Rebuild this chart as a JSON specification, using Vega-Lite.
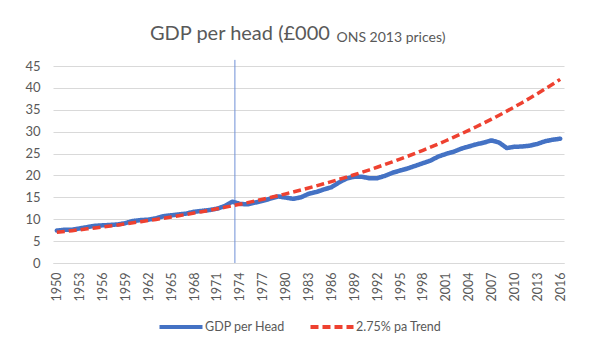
{
  "$schema": "https://vega.github.io/schema/vega-lite/v6.json",
  "width": 511,
  "height": 197,
  "autosize": {"type": "none"},
  "padding": {"left": 53, "top": 66, "right": 26, "bottom": 91},
  "background": "white",
  "title": {
    "text": "GDP per head (£000",
    "anchor": "start",
    "frame": "group",
    "dx": 97,
    "offset": -14,
    "font": "Lato",
    "fontSize": 20,
    "fontWeight": "normal",
    "color": "#595959"
  },
  "config": {
    "view": {"stroke": null},
    "font": "Lato",
    "axis": {"labelFont": "Lato", "labelColor": "#595959", "titleColor": "#595959"},
    "legend": {"labelFont": "Lato", "labelColor": "#595959"}
  },
  "data": {
    "values": [
      {"year": 1950, "gdp": 7.4, "trend": 7.0},
      {"year": 1951, "gdp": 7.6, "trend": 7.193},
      {"year": 1952, "gdp": 7.6, "trend": 7.39},
      {"year": 1953, "gdp": 7.9, "trend": 7.593},
      {"year": 1954, "gdp": 8.2, "trend": 7.802},
      {"year": 1955, "gdp": 8.5, "trend": 8.017},
      {"year": 1956, "gdp": 8.6, "trend": 8.237},
      {"year": 1957, "gdp": 8.7, "trend": 8.464},
      {"year": 1958, "gdp": 8.8, "trend": 8.697},
      {"year": 1959, "gdp": 9.1, "trend": 8.936},
      {"year": 1960, "gdp": 9.6, "trend": 9.182},
      {"year": 1961, "gdp": 9.8, "trend": 9.434},
      {"year": 1962, "gdp": 9.9, "trend": 9.694},
      {"year": 1963, "gdp": 10.2, "trend": 9.96},
      {"year": 1964, "gdp": 10.7, "trend": 10.234},
      {"year": 1965, "gdp": 10.9, "trend": 10.516},
      {"year": 1966, "gdp": 11.1, "trend": 10.805},
      {"year": 1967, "gdp": 11.3, "trend": 11.102},
      {"year": 1968, "gdp": 11.7, "trend": 11.407},
      {"year": 1969, "gdp": 11.9, "trend": 11.721},
      {"year": 1970, "gdp": 12.1, "trend": 12.043},
      {"year": 1971, "gdp": 12.4, "trend": 12.375},
      {"year": 1972, "gdp": 13.0, "trend": 12.715},
      {"year": 1973, "gdp": 14.0, "trend": 13.065},
      {"year": 1974, "gdp": 13.5, "trend": 13.424},
      {"year": 1975, "gdp": 13.4, "trend": 13.793},
      {"year": 1976, "gdp": 13.8, "trend": 14.172},
      {"year": 1977, "gdp": 14.2, "trend": 14.562},
      {"year": 1978, "gdp": 14.7, "trend": 14.963},
      {"year": 1979, "gdp": 15.2, "trend": 15.374},
      {"year": 1980, "gdp": 14.95, "trend": 15.797},
      {"year": 1981, "gdp": 14.65, "trend": 16.231},
      {"year": 1982, "gdp": 15.0, "trend": 16.678},
      {"year": 1983, "gdp": 15.8, "trend": 17.136},
      {"year": 1984, "gdp": 16.2, "trend": 17.607},
      {"year": 1985, "gdp": 16.8, "trend": 18.092},
      {"year": 1986, "gdp": 17.3, "trend": 18.589},
      {"year": 1987, "gdp": 18.4, "trend": 19.1},
      {"year": 1988, "gdp": 19.3, "trend": 19.626},
      {"year": 1989, "gdp": 19.7, "trend": 20.165},
      {"year": 1990, "gdp": 19.7, "trend": 20.72},
      {"year": 1991, "gdp": 19.35, "trend": 21.29},
      {"year": 1992, "gdp": 19.35, "trend": 21.875},
      {"year": 1993, "gdp": 19.9, "trend": 22.477},
      {"year": 1994, "gdp": 20.6, "trend": 23.095},
      {"year": 1995, "gdp": 21.1, "trend": 23.73},
      {"year": 1996, "gdp": 21.6, "trend": 24.382},
      {"year": 1997, "gdp": 22.2, "trend": 25.053},
      {"year": 1998, "gdp": 22.8, "trend": 25.742},
      {"year": 1999, "gdp": 23.4, "trend": 26.45},
      {"year": 2000, "gdp": 24.3, "trend": 27.177},
      {"year": 2001, "gdp": 24.9, "trend": 27.924},
      {"year": 2002, "gdp": 25.4, "trend": 28.692},
      {"year": 2003, "gdp": 26.1, "trend": 29.481},
      {"year": 2004, "gdp": 26.6, "trend": 30.292},
      {"year": 2005, "gdp": 27.1, "trend": 31.125},
      {"year": 2006, "gdp": 27.5, "trend": 31.981},
      {"year": 2007, "gdp": 28.0, "trend": 32.861},
      {"year": 2008, "gdp": 27.5, "trend": 33.764},
      {"year": 2009, "gdp": 26.25, "trend": 34.693},
      {"year": 2010, "gdp": 26.55, "trend": 35.647},
      {"year": 2011, "gdp": 26.6, "trend": 36.627},
      {"year": 2012, "gdp": 26.8, "trend": 37.635},
      {"year": 2013, "gdp": 27.2, "trend": 38.67},
      {"year": 2014, "gdp": 27.8, "trend": 39.733},
      {"year": 2015, "gdp": 28.15, "trend": 40.826},
      {"year": 2016, "gdp": 28.4, "trend": 41.948}
    ]
  },
  "transform": [{"fold": ["gdp", "trend"], "as": ["series", "value"]}],
  "encoding": {
    "x": {
      "field": "year",
      "type": "quantitative",
      "scale": {"domain": [1949.5, 2016.5], "nice": false, "zero": false},
      "axis": {
        "title": null,
        "values": [1950, 1953, 1956, 1959, 1962, 1965, 1968, 1971, 1974, 1977, 1980, 1983, 1986, 1989, 1992, 1995, 1998, 2001, 2004, 2007, 2010, 2013, 2016],
        "format": "d",
        "labelAngle": -90,
        "labelFontSize": 12.5,
        "labelPadding": 9,
        "ticks": false,
        "grid": false,
        "domainColor": "#D9D9D9",
        "domainWidth": 1,
        "labelFlush": false,
        "labelOverlap": false
      }
    },
    "y": {
      "field": "value",
      "type": "quantitative",
      "scale": {"domain": [0, 45], "nice": false},
      "axis": {
        "title": "ONS 2013 prices)",
        "titleAngle": 0,
        "titleX": 283,
        "titleY": -25,
        "titleAlign": "left",
        "titleBaseline": "alphabetic",
        "titleFont": "Lato",
        "titleFontSize": 14,
        "titleFontWeight": "normal",
        "titleColor": "#595959",
        "values": [0, 5, 10, 15, 20, 25, 30, 35, 40, 45],
        "labelFontSize": 13,
        "labelPadding": 13,
        "labelOverlap": false,
        "ticks": false,
        "domain": false,
        "gridColor": "#D9D9D9",
        "gridWidth": 1
      }
    }
  },
  "layer": [
    {
      "mark": {"type": "rule", "color": "#6F8FD6", "strokeWidth": 1},
      "data": {"values": [{"year": 1973.35, "value": 0, "hi": 46.4}]},
      "transform": [],
      "encoding": {
        "y2": {"field": "hi"}
      }
    },
    {
      "mark": {"type": "line", "strokeWidth": 4.5, "strokeCap": "round", "strokeJoin": "round"},
      "transform": [{"filter": "datum.series == 'gdp'"}],
      "encoding": {
        "color": {
          "field": "series",
          "type": "nominal",
          "scale": {"domain": ["gdp", "trend"], "range": ["#4472C4", "#EE4130"]},
          "legend": {
            "title": null,
            "orient": "none",
            "legendX": 104,
            "legendY": 237,
            "direction": "horizontal",
            "labelExpr": "datum.label == 'gdp' ? 'GDP per Head' : '2.75% pa Trend'",
            "labelFontSize": 12.5,
            "symbolType": "stroke",
            "symbolSize": 1850,
            "symbolStrokeWidth": 4,
            "columnPadding": 17,
            "labelOffset": 0
          }
        },
        "strokeDash": {
          "field": "series",
          "type": "nominal",
          "scale": {"domain": ["gdp", "trend"], "range": [[1, 0], [8, 4]]},
          "legend": {
            "title": null,
            "orient": "none",
            "legendX": 104,
            "legendY": 237,
            "direction": "horizontal",
            "labelExpr": "datum.label == 'gdp' ? 'GDP per Head' : '2.75% pa Trend'",
            "labelFontSize": 12.5,
            "symbolType": "stroke",
            "symbolSize": 1850,
            "symbolStrokeWidth": 4,
            "columnPadding": 17,
            "labelOffset": 0
          }
        }
      }
    },
    {
      "mark": {"type": "line", "strokeWidth": 3.5},
      "transform": [{"filter": "datum.series == 'trend'"}],
      "encoding": {
        "color": {"field": "series", "type": "nominal"},
        "strokeDash": {"field": "series", "type": "nominal"}
      }
    }
  ]
}
